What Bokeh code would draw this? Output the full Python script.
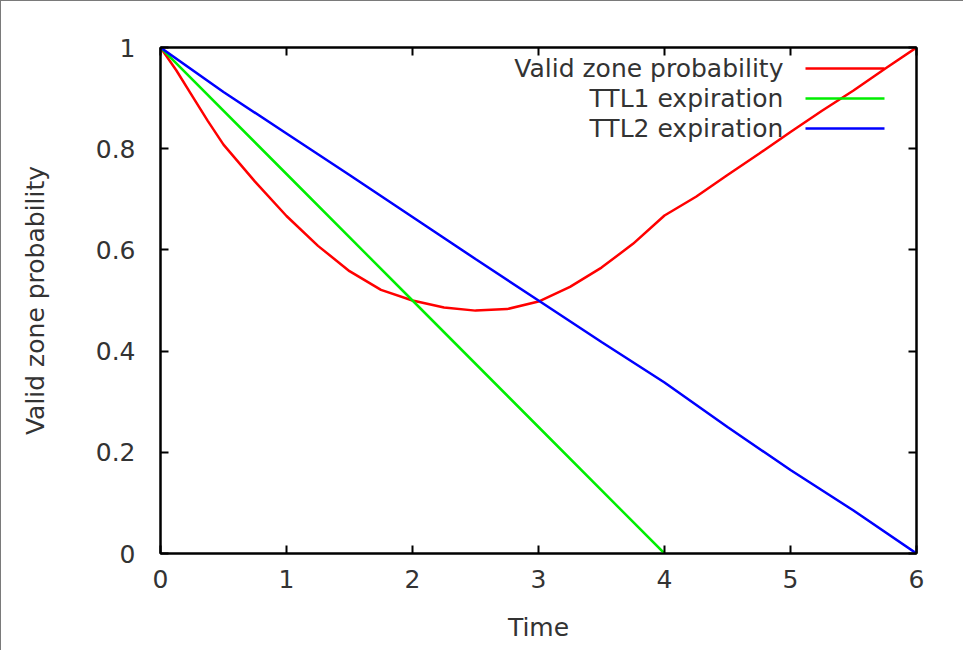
from bokeh.plotting import figure
from bokeh.models import Range1d, LinearAxis, FixedTicker, Label
from bokeh.embed import file_html
from bokeh.resources import INLINE

# ---- data ----
t_valid = [0, 0.125, 0.25, 0.375, 0.5, 0.75, 1.0, 1.25, 1.5, 1.75, 2.0, 2.25, 2.5, 2.75, 3.0,
           3.25, 3.5, 3.75, 4.0, 4.25, 4.5, 4.75, 5.0, 5.25, 5.5, 5.75, 6.0]
valid_prob = [1.0, 0.955, 0.905, 0.855, 0.808, 0.735, 0.667, 0.608, 0.558, 0.521, 0.50, 0.486, 0.48,
              0.483, 0.498, 0.527, 0.565, 0.612, 0.668, 0.705, 0.748, 0.79, 0.833,
              0.875, 0.915, 0.958, 1.0]
t_ttl1 = [0, 1, 2, 3, 4]
ttl1 = [1.0, 0.75, 0.5, 0.25, 0.0]
t_ttl2 = [0, 0.5, 1.0, 1.5, 2.0, 2.5, 3.0, 3.5, 4.0, 4.5, 5.0, 5.5, 6.0]
ttl2 = [1.0, 0.912, 0.83, 0.748, 0.665, 0.582, 0.5, 0.418, 0.338, 0.25, 0.165, 0.085, 0.0]

x_ticks = [0, 1, 2, 3, 4, 5, 6]
y_ticks = [0, 0.2, 0.4, 0.6, 0.8, 1]
y_tick_labels = {0: "0", 0.2: "0.2", 0.4: "0.4", 0.6: "0.6", 0.8: "0.8", 1: "1"}

series_names = ["Valid zone probability", "TTL1 expiration", "TTL2 expiration"]
series_colors = ["#ff0000", "#00ee00", "#0000ff"]

FONT = "DejaVu Sans"
TXT = "#333333"
FS = "25px"

p = figure(width=963, height=650, output_backend="svg", toolbar_location=None,
           x_range=Range1d(0, 6), y_range=Range1d(0, 1),
           min_border_left=159, min_border_right=48, min_border_top=46, min_border_bottom=98,
           x_axis_label="Time", y_axis_label="Valid zone probability")
p.grid.visible = False
p.outline_line_color = "black"
p.outline_line_width = 2
p.styles = {"border-left": "1px solid #7a7a7a", "border-top": "1px solid #7a7a7a"}

def style_axis(ax, ticks, labels=True, overrides=None):
    ax.ticker = FixedTicker(ticks=ticks)
    ax.axis_line_color = "black"
    ax.axis_line_width = 2
    ax.major_tick_line_color = "black"
    ax.major_tick_line_width = 2
    ax.major_tick_in = 8
    ax.major_tick_out = 0
    ax.minor_tick_line_color = None
    ax.major_label_text_font = FONT
    ax.major_label_text_font_size = FS
    ax.major_label_text_color = TXT
    ax.axis_label_text_font = FONT
    ax.axis_label_text_font_size = FS
    ax.axis_label_text_color = TXT
    ax.axis_label_text_font_style = "normal"
    if overrides is not None:
        ax.major_label_overrides = overrides
    if not labels:
        ax.major_label_overrides = {tk: "" for tk in ticks}

style_axis(p.xaxis[0], x_ticks)
p.xaxis[0].major_label_standoff = 16
p.xaxis[0].axis_label_standoff = 22
style_axis(p.yaxis[0], y_ticks, overrides=y_tick_labels)
p.yaxis[0].major_label_standoff = 25
p.yaxis[0].axis_label_standoff = 43

top = LinearAxis()
style_axis(top, x_ticks, labels=False)
p.add_layout(top, "above")
right = LinearAxis()
style_axis(right, y_ticks, labels=False)
p.add_layout(right, "right")

LW = 2.5
p.line(t_valid, valid_prob, line_color=series_colors[0], line_width=LW)
p.line(t_ttl1, ttl1, line_color=series_colors[1], line_width=LW)
p.line(t_ttl2, ttl2, line_color=series_colors[2], line_width=LW)

# gnuplot-style key: text right-aligned, sample line to its right
key_text_x = 4.944
key_line_x0, key_line_x1 = 5.119, 5.746
key_rows = [0.9585, 0.8992, 0.8399]
for name, col, ky in zip(series_names, series_colors, key_rows):
    p.add_layout(Label(x=key_text_x, y=ky, text=name, text_align="right",
                       text_baseline="middle", text_font=FONT, text_font_size=FS,
                       text_color=TXT))
    p.line([key_line_x0, key_line_x1], [ky, ky], line_color=col, line_width=LW)

open("out.html", "w").write(file_html(p, INLINE))
